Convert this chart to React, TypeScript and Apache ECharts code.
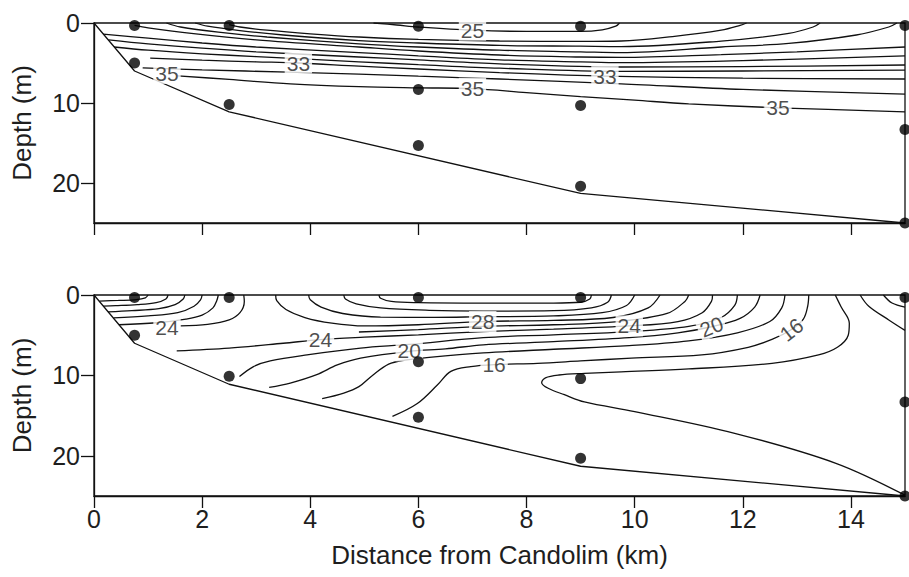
import React, { useEffect, useRef } from "react";
import * as echarts from "echarts";

// ---- axes ----
const xTicks = [0, 2, 4, 6, 8, 10, 12, 14];
const yTicks = [0, 10, 20];
const xName = "Distance from Candolim (km)";
const yName = "Depth (m)";

// ---- bathymetry & stations (km, m) ----
const seabed = [[0, 0], [0.75, 6], [2.5, 11.1], [9, 21.3], [15, 25]];
const stationsTop = [[0.75, 0.3], [0.75, 5], [2.5, 0.3], [2.5, 10.2], [6, 0.4], [6, 8.3], [6, 15.3], [9, 0.4], [9, 10.3], [9, 20.4], [15, 0.3], [15, 13.3], [15, 25]];
const stationsBottom = [[0.75, 0.3], [0.75, 5], [2.5, 0.3], [2.5, 10.1], [6, 0.3], [6, 8.3], [6, 15.2], [9, 0.3], [9, 10.4], [9, 20.3], [15, 0.3], [15, 13.3], [15, 25]];

// ---- top panel: salinity contours ----
const s25 = [[5.17, 0], [5.6, 0.25], [6.0, 0.5], [7.0, 0.9], [8.0, 1.05], [9.0, 1.05], [9.4, 0.85], [9.65, 0.4], [9.72, 0]];
const s26 = [[2.5, 0.2], [2.7, 0.5], [3.2, 0.9], [4.0, 1.35], [4.9, 1.75], [6.0, 2.05], [7.5, 2.25], [9.0, 2.3], [9.75, 2.25], [10.7, 1.7], [11.6, 0.9], [11.95, 0.3], [12.07, 0]];
const s27 = [[1.87, 0], [2.1, 0.4], [2.7, 0.95], [3.5, 1.5], [4.9, 2.2], [6.0, 2.5], [7.5, 2.8], [9.0, 2.9], [9.75, 2.95], [11.6, 2.26], [12.85, 1.3], [13.3, 0.5], [13.43, 0]];
const s28 = [[1.34, 0], [1.6, 0.5], [2.3, 1.15], [3.2, 1.75], [4.9, 2.6], [6.0, 3.0], [7.5, 3.4], [9.0, 3.6], [9.75, 3.7], [11.6, 3.0], [12.85, 2.55], [14.1, 1.5], [14.7, 0.5], [14.85, 0]];
const s29 = [[0.75, 0.3], [1.0, 0.6], [1.8, 1.3], [3.0, 2.1], [4.9, 3.0], [6.0, 3.5], [7.5, 4.0], [9.0, 4.25], [9.75, 4.3], [11.6, 3.95], [13.0, 3.6], [15, 3.0]];
const s30 = [[0.17, 1.4], [1.0, 1.9], [2.0, 2.5], [3.0, 3.0], [4.9, 3.7], [6.0, 4.1], [7.5, 4.6], [9.0, 4.85], [9.75, 4.95], [12, 4.7], [15, 4.1]];
const s31 = [[0.27, 2.1], [1.0, 2.6], [2.0, 3.15], [3.0, 3.6], [4.9, 4.25], [6.0, 4.6], [7.5, 5.1], [9.75, 5.5], [12, 5.45], [15, 5.25]];
const s32 = [[0.37, 3.0], [1.0, 3.4], [2.0, 3.85], [3.0, 4.2], [4.9, 4.85], [6.0, 5.2], [7.5, 5.65], [9.75, 6.05], [12, 6.0], [15, 5.9]];
const s33 = [[1.04, 4.4], [2.0, 4.65], [3.0, 4.85], [3.78, 5.0], [4.9, 5.4], [6.0, 5.75], [7.5, 6.2], [9.45, 6.65], [12, 6.9], [15, 7.0]];
const s34 = [[0.9, 5.6], [2.0, 5.85], [3.6, 6.15], [4.9, 6.4], [6.0, 6.65], [7.5, 7.0], [9.75, 7.6], [12, 8.3], [15, 8.9]];
const s35 = [[1.55, 6.6], [2.5, 7.05], [3.63, 7.6], [4.9, 7.95], [6.0, 8.1], [7.0, 8.2], [8.0, 8.7], [9.0, 9.2], [10.0, 9.65], [11.0, 10.1], [12.65, 10.6], [15, 11.1]];
const salinityLines = [s25, s26, s27, s28, s29, s30, s31, s32, s33, s34, s35];
const salinityLabels = [
  { text: "25", x: 7.0, d: 0.9 },
  { text: "33", x: 3.78, d: 5.0 },
  { text: "33", x: 9.45, d: 6.7 },
  { text: "35", x: 1.35, d: 6.3 },
  { text: "35", x: 7.0, d: 8.15 },
  { text: "35", x: 12.65, d: 10.6 },
];

// ---- bottom panel: temperature contours ----
const n1 = [[1.0, 0], [0.95, 0.35], [0.78, 0.58], [0.45, 0.68], [0.1, 0.75]];
const n2 = [[1.37, 0], [1.33, 0.5], [1.15, 0.95], [0.8, 1.2], [0.4, 1.33], [0.17, 1.38]];
const n3 = [[1.68, 0], [1.65, 0.5], [1.5, 1.2], [1.2, 1.7], [0.7, 1.95], [0.26, 2.1]];
const n4 = [[2.0, 0], [1.97, 0.6], [1.85, 1.4], [1.55, 2.2], [1.0, 2.6], [0.36, 2.85]];
const n5 = [[2.3, 0], [2.27, 0.7], [2.2, 1.6], [2.0, 2.5], [1.7, 3.0], [1.16, 3.45], [0.46, 3.7]];
const n6 = [[2.77, 0], [2.78, 0.8], [2.7, 2.2], [2.5, 3.1], [2.1, 3.65], [1.6, 3.85]];
const u1 = [[5.27, 0], [5.3, 0.4], [5.5, 0.8], [6.0, 0.95], [7.2, 1.0], [8.5, 1.0], [9.0, 0.9], [9.17, 0.5], [9.2, 0]];
const u2 = [[4.62, 0], [4.65, 0.5], [4.85, 1.1], [5.3, 1.6], [6.2, 1.9], [7.2, 2.0], [8.5, 1.95], [9.2, 1.6], [9.5, 0.9], [9.57, 0]];
const u3 = [[3.97, 0], [4.0, 0.6], [4.2, 1.5], [4.6, 2.3], [5.3, 2.75], [6.3, 2.78], [7.2, 2.7], [8.5, 2.6], [9.4, 2.2], [9.85, 1.3], [10.0, 0]];
const u4 = [[3.36, 0], [3.38, 0.7], [3.55, 1.8], [3.9, 2.8], [4.4, 3.5], [5.0, 3.85], [6.0, 3.7], [7.2, 3.3], [8.5, 3.15], [9.6, 2.8], [10.25, 1.6], [10.47, 0]];
const t26 = [[4.9, 4.6], [6.0, 4.3], [7.2, 3.9], [8.5, 3.7], [9.7, 3.3], [10.6, 2.3], [10.93, 0.8], [11.0, 0]];
const t24 = [[1.53, 6.95], [2.5, 6.6], [3.5, 6.0], [4.19, 5.55], [5.0, 5.25], [6.0, 4.95], [7.2, 4.55], [8.5, 4.25], [9.9, 3.85], [10.8, 3.3], [11.25, 2.2], [11.42, 0.8], [11.44, 0]];
const t22 = [[2.69, 10.15], [2.95, 8.9], [3.26, 8.2], [3.94, 7.45], [4.93, 6.6], [5.83, 6.15], [7.2, 5.3], [8.5, 4.95], [9.9, 4.55], [11.0, 3.9], [11.6, 2.8], [11.85, 1.3], [11.9, 0]];
const t20 = [[3.24, 11.5], [3.63, 10.95], [4.12, 9.9], [4.5, 8.7], [4.93, 7.85], [5.83, 7.0], [6.5, 6.7], [7.2, 6.2], [8.5, 5.8], [9.9, 5.3], [10.8, 4.7], [11.42, 3.95], [11.95, 2.9], [12.22, 1.5], [12.32, 0]];
const t18 = [[4.22, 12.9], [4.62, 12.2], [4.9, 11.4], [5.15, 10.0], [5.45, 8.6], [5.75, 8.1], [6.2, 7.75], [7.2, 7.2], [8.5, 6.75], [9.9, 6.3], [11.0, 5.7], [11.9, 4.7], [12.5, 3.3], [12.72, 1.6], [12.78, 0]];
const t16 = [[5.52, 15.1], [5.98, 13.5], [6.35, 11.2], [6.6, 9.5], [6.97, 8.9], [7.4, 8.65], [8.2, 8.5], [9.0, 8.2], [9.94, 7.85], [11.24, 7.45], [12.1, 6.5], [12.55, 5.5], [12.9, 4.3], [13.12, 3.0], [13.2, 1.4], [13.22, 0]];
const tS = [[13.71, 0], [13.82, 1.5], [13.97, 3.5], [13.95, 5.0], [13.75, 6.5], [13.4, 7.45], [12.54, 8.5], [11.0, 9.2], [9.75, 9.55], [9.07, 9.75], [8.6, 9.95], [8.35, 10.3], [8.28, 10.9], [8.4, 11.6], [8.7, 12.4], [9.07, 13.3], [10.0, 14.5], [11.85, 17.2], [13.71, 20.9], [15, 24.9]];
const tCorner = [[14.17, 0], [14.33, 1.4], [14.7, 3.1], [15, 4.4]];
const tHook = [[14.6, 0], [14.76, 1.0], [15, 1.5]];
const temperatureLines = [n1, n2, n3, n4, n5, n6, u1, u2, u3, u4, t26, t24, t22, t20, t18, t16, tS, tCorner, tHook];
const temperatureLabels = [
  { text: "24", x: 1.35, d: 4.1 },
  { text: "24", x: 4.19, d: 5.5 },
  { text: "28", x: 7.19, d: 3.3 },
  { text: "20", x: 5.83, d: 6.95 },
  { text: "16", x: 7.4, d: 8.65 },
  { text: "24", x: 9.9, d: 3.85 },
  { text: "20", x: 11.42, d: 3.95 },
  { text: "16", x: 12.9, d: 4.3 },
];
const labelTilt: Record<string, number> = { "20@11.42": 22, "16@12.9": 38 };

const FONT = "'Liberation Sans', Arial, Helvetica, sans-serif";
const INK = "#111";
const TEXT = "#1e1e1e";

function lineSeries(data: number[][], idx: number, smooth = 0.35) {
  return {
    type: "line",
    xAxisIndex: idx,
    yAxisIndex: idx,
    data,
    smooth,
    symbol: "none",
    silent: true,
    lineStyle: { color: INK, width: 1.3 },
    z: 2,
  };
}

function labelSeries(labels: { text: string; x: number; d: number }[], idx: number) {
  return {
    type: "scatter",
    xAxisIndex: idx,
    yAxisIndex: idx,
    symbolSize: 0,
    silent: true,
    z: 5,
    data: labels.map((l) => ({
      value: [l.x, l.d],
      name: l.text,
      label: { rotate: labelTilt[`${l.text}@${l.x}`] || 0 },
    })),
    label: {
      show: true,
      position: "inside",
      formatter: (p: any) => p.name,
      fontFamily: FONT,
      fontSize: 21,
      color: TEXT,
      backgroundColor: "#fff",
      padding: [0, 2],
    },
  };
}

function dotSeries(data: number[][], idx: number) {
  return {
    type: "scatter",
    xAxisIndex: idx,
    yAxisIndex: idx,
    data,
    symbolSize: 11,
    clip: false,
    silent: true,
    itemStyle: { color: "#000" },
    z: 6,
  };
}

function xAxis(idx: number, showLabels: boolean) {
  return {
    type: "value",
    gridIndex: idx,
    position: "bottom",
    min: 0,
    max: 15,
    interval: 2,
    splitLine: { show: false },
    axisLine: { show: true, onZero: false, lineStyle: { color: INK, width: 1.3 } },
    axisTick: { show: true, customValues: xTicks, length: 12, lineStyle: { color: INK, width: 1.3 } },
    axisLabel: {
      show: showLabels,
      customValues: xTicks,
      fontFamily: FONT,
      fontSize: 25,
      color: TEXT,
      margin: 10,
    },
    name: showLabels ? xName : "",
    nameLocation: "middle",
    nameGap: 46,
    nameTextStyle: { fontFamily: FONT, fontSize: 26, color: TEXT },
  };
}

function yAxis(idx: number) {
  return {
    type: "value",
    gridIndex: idx,
    position: "left",
    inverse: true,
    min: 0,
    max: 25,
    interval: 10,
    splitLine: { show: false },
    axisLine: { show: true, onZero: false, lineStyle: { color: INK, width: 1.3 } },
    axisTick: { show: true, customValues: yTicks, length: 13, lineStyle: { color: INK, width: 1.3 } },
    axisLabel: {
      customValues: yTicks,
      fontFamily: FONT,
      fontSize: 25,
      color: TEXT,
      margin: 14,
    },
    name: yName,
    nameLocation: "middle",
    nameGap: 59,
    nameRotate: 90,
    nameTextStyle: { fontFamily: FONT, fontSize: 26, color: TEXT },
  };
}

export default function App() {
  const ref = useRef<HTMLDivElement>(null);
  useEffect(() => {
    if (!ref.current) return;
    const chart = echarts.init(ref.current, null, { renderer: "svg" });
    const series: any[] = [];
    series.push(lineSeries(seabed, 0, 0));
    salinityLines.forEach((l) => series.push(lineSeries(l, 0)));
    series.push(labelSeries(salinityLabels, 0));
    series.push(dotSeries(stationsTop, 0));
    series.push(lineSeries(seabed, 1, 0));
    temperatureLines.forEach((l) => series.push(lineSeries(l, 1)));
    series.push(labelSeries(temperatureLabels, 1));
    series.push(dotSeries(stationsBottom, 1));
    chart.setOption({
      animation: false,
      backgroundColor: "#fff",
      grid: [
        { left: 94, top: 23, width: 811, height: 200, show: true, borderColor: INK, borderWidth: 1.3, backgroundColor: "transparent" },
        { left: 94, top: 295, width: 811, height: 201, show: true, borderColor: INK, borderWidth: 1.3, backgroundColor: "transparent" },
      ],
      xAxis: [xAxis(0, false), xAxis(1, true)],
      yAxis: [yAxis(0), yAxis(1)],
      series,
    });
    return () => chart.dispose();
  }, []);
  return (
    <div
      ref={ref}
      style={{ position: "absolute", left: 0, top: 0, width: 909, height: 577, background: "#fff" }}
    />
  );
}
